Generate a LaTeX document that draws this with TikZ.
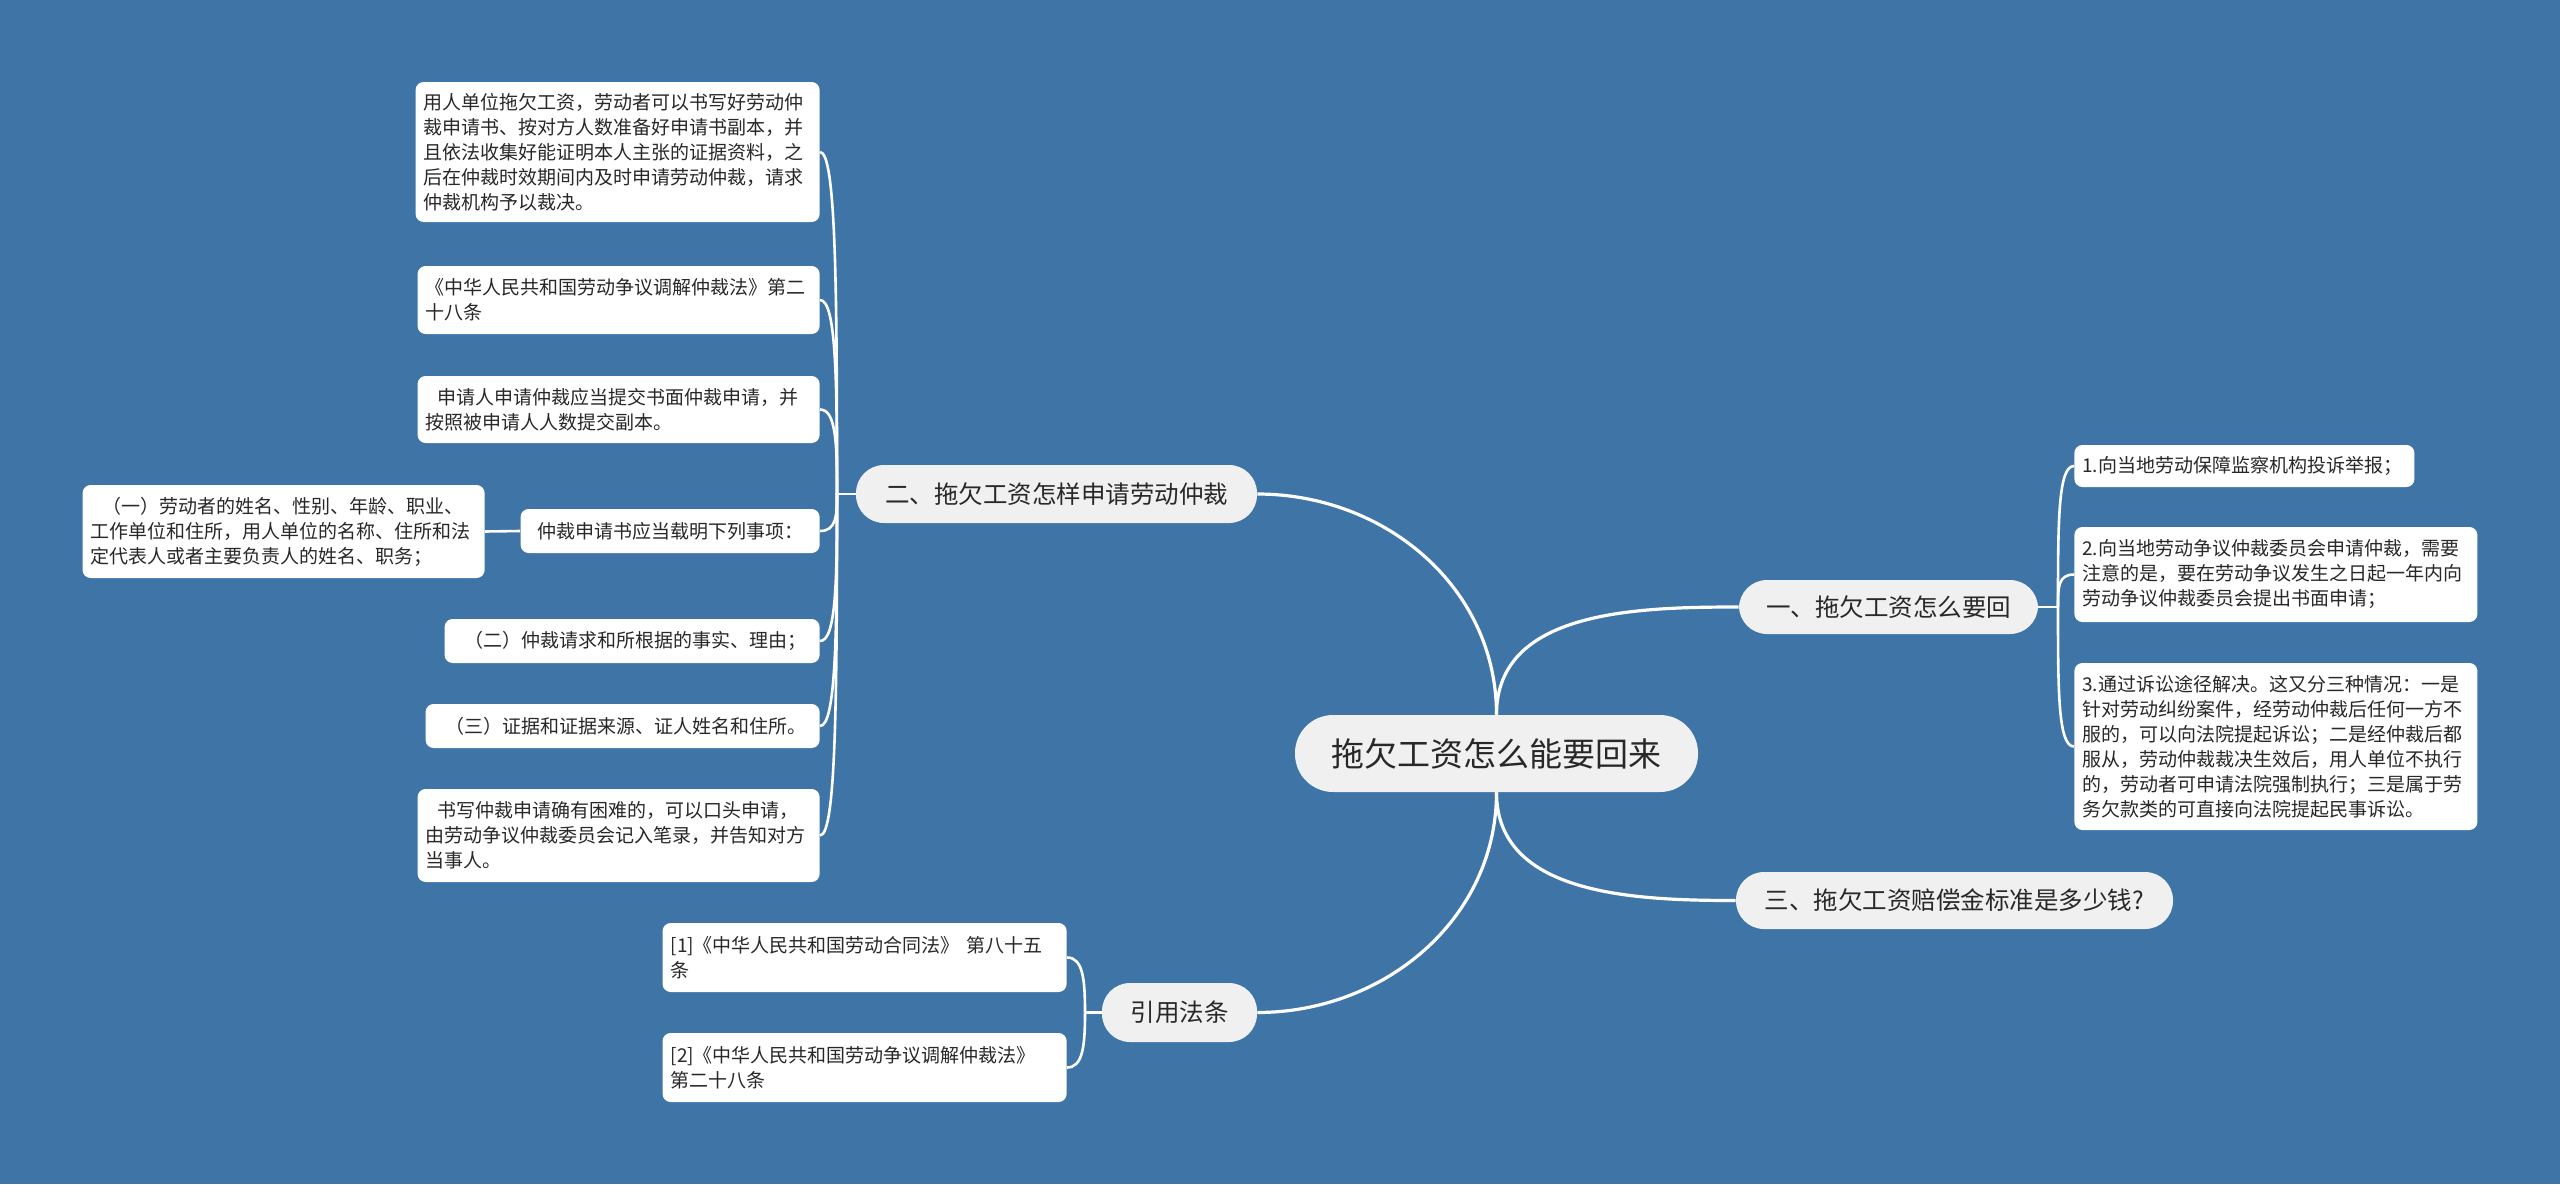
\documentclass[tikz,border=0pt]{standalone}
\usepackage{fontspec}
\setmainfont{Noto Sans CJK SC}
\usetikzlibrary{calc}
\definecolor{bgc}{RGB}{62,116,166}
\definecolor{mainfill}{RGB}{240,240,240}
\definecolor{txt}{RGB}{40,40,40}
\begin{document}
\begin{tikzpicture}[x=0.5pt,y=0.5pt,
  leaf/.style={fill=white, rounded corners=4pt, inner xsep=4pt, inner ysep=1pt, text=txt, align=left, font=\fontsize{9.5pt}{12.5pt}\selectfont},
  topic/.style={fill=mainfill, inner sep=0pt, text=txt, rounded corners=14pt, font=\fontsize{12.25pt}{14pt}\selectfont},
  link/.style={draw=white, line width=1.6pt},
  sublink/.style={draw=white, line width=1.3pt}]
\fill[bgc] (0,0) rectangle (2560,-1184);
\useasboundingbox (0,0) rectangle (2560,-1184);

% main nodes
\node[topic, minimum width=201.5pt, minimum height=38.5pt, rounded corners=19pt, font=\fontsize{16.5pt}{18pt}\selectfont] (C) at (1496.5,-753.5) {拖欠工资怎么能要回来};
\node[topic, minimum width=200.5pt, minimum height=29pt] (L1) at (1056.5,-494) {二、拖欠工资怎样申请劳动仲裁};
\node[topic, minimum width=149.5pt, minimum height=27pt] (R1) at (1888.5,-607) {一、拖欠工资怎么要回};
\node[topic, minimum width=218.5pt, minimum height=28.5pt] (R2) at (1954.5,-900.5) {三、拖欠工资赔偿金标准是多少钱?};
\node[topic, minimum width=77.5pt, minimum height=29.5pt] (L2) at (1179.5,-1012.5) {引用法条};

% left leaves of L1
\node[leaf, anchor=east, text width=194pt, minimum height=70pt] (A) at (820,-152) {用人单位拖欠工资，劳动者可以书写好劳动仲\\裁申请书、按对方人数准备好申请书副本，并\\且依法收集好能证明本人主张的证据资料，之\\后在仲裁时效期间内及时申请劳动仲裁，请求\\仲裁机构予以裁决。};
\node[leaf, anchor=east, text width=193pt, minimum height=34pt] (B) at (820,-300) {《中华人民共和国劳动争议调解仲裁法》第二\\十八条};
\node[leaf, anchor=east, text width=193pt, minimum height=33.5pt] (Cc) at (820,-409.5) {\hspace*{6pt}申请人申请仲裁应当提交书面仲裁申请，并\\按照被申请人人数提交副本。};
\node[leaf, anchor=east, text width=141.5pt, minimum height=22pt, align=center] (D) at (820,-531) {仲裁申请书应当载明下列事项：};
\node[leaf, anchor=east, text width=193pt, minimum height=46.5pt] (Dc) at (485,-531.5) {\hspace*{6pt}（一）劳动者的姓名、性别、年龄、职业、\\工作单位和住所，用人单位的名称、住所和法\\定代表人或者主要负责人的姓名、职务；};
\node[leaf, anchor=east, text width=179.5pt, minimum height=22pt] (E) at (820,-641) {\hspace*{6pt}（二）仲裁请求和所根据的事实、理由；};
\node[leaf, anchor=east, text width=189pt, minimum height=22pt] (F) at (820,-726) {\hspace*{6pt}（三）证据和证据来源、证人姓名和住所。};
\node[leaf, anchor=east, text width=193pt, minimum height=46.5pt] (G) at (820,-835.5) {\hspace*{6pt}书写仲裁申请确有困难的，可以口头申请，\\由劳动争议仲裁委员会记入笔录，并告知对方\\当事人。};

% leaves of L2
\node[leaf, anchor=east, text width=194pt, minimum height=34.5pt] (P1) at (1067,-957.5) {[1]《中华人民共和国劳动合同法》 第八十五\\条};
\node[leaf, anchor=east, text width=194pt, minimum height=34.5pt] (P2) at (1067,-1067.5) {[2]《中华人民共和国劳动争议调解仲裁法》\\第二十八条};

% leaves of R1
\node[leaf, anchor=west, text width=162pt, minimum height=21pt] (S1) at (2074,-466) {1.向当地劳动保障监察机构投诉举报；};
\node[leaf, anchor=west, text width=193.5pt, minimum height=47.5pt] (S2) at (2074,-574.5) {2.向当地劳动争议仲裁委员会申请仲裁，需要\\注意的是，要在劳动争议发生之日起一年内向\\劳动争议仲裁委员会提出书面申请；};
\node[leaf, anchor=west, text width=193.5pt, minimum height=83.5pt] (S3) at (2074,-746.5) {3.通过诉讼途径解决。这又分三种情况：一是\\针对劳动纠纷案件，经劳动仲裁后任何一方不\\服的，可以向法院提起诉讼；二是经仲裁后都\\服从，劳动仲裁裁决生效后，用人单位不执行\\的，劳动者可申请法院强制执行；三是属于劳\\务欠款类的可直接向法院提起民事诉讼。};

% junctions
\coordinate (J1) at (837,-494);
\coordinate (J2) at (2058,-607);
\coordinate (J3) at (1085,-1012.5);

% main connectors
\draw[link] (C.north) to[out=90,in=0] (L1.east);
\draw[link] (C.north) to[out=90,in=180] (R1.west);
\draw[link] (C.south) to[out=-90,in=180] (R2.west);
\draw[link] (C.south) to[out=-90,in=0] (L2.east);

% L1 branch
\draw[sublink] (L1.west) -- (J1);
\foreach \n in {A,B,Cc,D,E,F,G}
  \draw[sublink] (\n.east) .. controls +(16,0) and ($(J1)!0.6!(J1 |- \n.east)$) .. (J1);
\draw[sublink] (D.west) -- (Dc.east);

% R1 branch
\draw[sublink] (R1.east) -- (J2);
\foreach \n in {S1,S2,S3}
  \draw[sublink] (\n.west) .. controls +(-16,0) and ($(J2)!0.6!(J2 |- \n.west)$) .. (J2);

% L2 branch
\draw[sublink] (L2.west) -- (J3);
\foreach \n in {P1,P2}
  \draw[sublink] (\n.east) .. controls +(16,0) and ($(J3)!0.6!(J3 |- \n.east)$) .. (J3);
\end{tikzpicture}
\end{document}
